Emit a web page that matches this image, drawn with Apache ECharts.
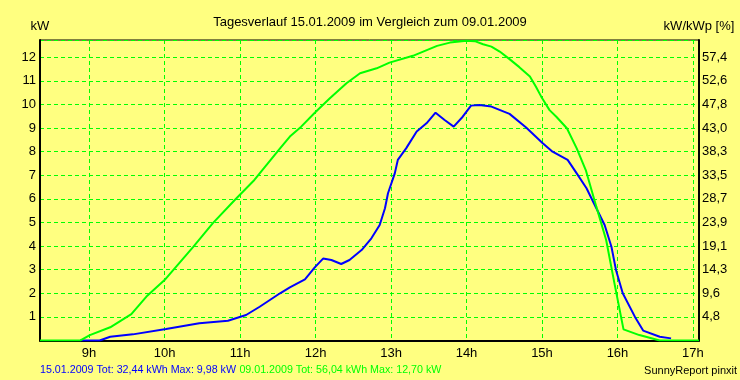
<!DOCTYPE html>
<html>
<head>
<meta charset="utf-8">
<script src="https://cdn.jsdelivr.net/npm/echarts@6/dist/echarts.min.js"></script>
<style>
html,body{margin:0;padding:0;background:#FFFF80;}
#chart{width:740px;height:380px;}
</style>
</head>
<body>
<div id="chart"></div>
<script>
// ---- data (time in decimal hours, power in kW) ----
const blueHours = [8.88, 9.14, 9.28, 9.58, 10.02, 10.46, 10.84, 11.08, 11.26, 11.53, 11.66, 11.86, 11.99, 12.10, 12.21, 12.34, 12.45, 12.61, 12.74, 12.85, 12.92, 12.96, 13.05, 13.09, 13.20, 13.34, 13.47, 13.59, 13.71, 13.83, 13.95, 14.06, 14.17, 14.33, 14.57, 14.79, 15.01, 15.14, 15.34, 15.46, 15.59, 15.72, 15.83, 15.92, 15.98, 16.07, 16.23, 16.34, 16.56, 16.71];
const blueKW    = [0, 0, 0.16, 0.26, 0.49, 0.73, 0.84, 1.08, 1.43, 2.00, 2.25, 2.59, 3.10, 3.47, 3.41, 3.24, 3.41, 3.83, 4.33, 4.89, 5.60, 6.24, 7.08, 7.65, 8.14, 8.85, 9.20, 9.65, 9.34, 9.06, 9.48, 9.95, 9.98, 9.91, 9.60, 9.02, 8.36, 8.00, 7.65, 7.08, 6.45, 5.60, 4.89, 3.97, 2.99, 2.00, 1.01, 0.42, 0.16, 0.09];

const greenHours = [8.35, 8.88, 9.01, 9.28, 9.56, 9.76, 10.00, 10.38, 10.64, 10.93, 11.19, 11.53, 11.66, 11.81, 11.99, 12.19, 12.41, 12.59, 12.81, 12.98, 13.29, 13.61, 13.78, 14.00, 14.11, 14.22, 14.33, 14.44, 14.57, 14.70, 14.84, 14.92, 14.99, 15.10, 15.19, 15.33, 15.46, 15.58, 15.72, 15.85, 15.96, 16.08, 16.29, 16.56, 17.08];
const greenKW    = [0, 0, 0.23, 0.56, 1.12, 1.86, 2.56, 3.97, 4.97, 5.95, 6.80, 8.14, 8.64, 9.06, 9.65, 10.26, 10.90, 11.32, 11.53, 11.77, 12.06, 12.48, 12.62, 12.70, 12.68, 12.55, 12.45, 12.24, 11.92, 11.58, 11.18, 10.75, 10.33, 9.76, 9.48, 8.99, 8.14, 7.22, 5.67, 4.26, 2.42, 0.47, 0.23, 0, 0];

const hourTicks = [9, 10, 11, 12, 13, 14, 15, 16, 17];
const kwTicks = [1, 2, 3, 4, 5, 6, 7, 8, 9, 10, 11, 12];
const pctLabels = ['4,8', '9,6', '14,3', '19,1', '23,9', '28,7', '33,5', '38,3', '43,0', '47,8', '52,6', '57,4'];

const titleText = 'Tagesverlauf 15.01.2009 im Vergleich zum 09.01.2009';
const blueSummary = '15.01.2009 Tot: 32,44 kWh Max: 9,98 kW';
const greenSummary = '09.01.2009 Tot: 56,04 kWh Max: 12,70 kW';
const creditText = 'SunnyReport pinxit';

// ---- chart ----
const FONT = '"Liberation Sans", Arial, sans-serif';
const GREEN = '#00FF00';
const BLUE = '#0000FF';
const zip = (xs, ys) => xs.map((x, i) => [x, ys[i]]);

const gridLine = { show: true, lineStyle: { color: GREEN, type: [4, 3], width: 1 } };

const chart = echarts.init(document.getElementById('chart'), null, { renderer: 'canvas' });
chart.setOption({
  backgroundColor: '#FFFF80',
  animation: false,
  title: {
    text: titleText, left: 'center', top: 11,
    textStyle: { fontFamily: FONT, fontSize: 13, fontWeight: 'normal', color: '#000' }
  },
  grid: {
    left: 40, right: 41, top: 40, height: 300.5,
    show: true, borderColor: '#000', borderWidth: 1, backgroundColor: 'transparent'
  },
  xAxis: {
    type: 'value', min: 8.35, max: 17.08,
    axisLine: { show: true, onZero: false, lineStyle: { color: '#000', width: 2 } },
    axisTick: { show: false, customValues: hourTicks },
    axisLabel: {
      customValues: hourTicks, margin: 6,
      formatter: v => v + 'h',
      fontFamily: FONT, fontSize: 13, color: '#000'
    },
    splitLine: gridLine
  },
  yAxis: [
    {
      type: 'value', min: 0, max: 12.73, interval: 1, position: 'left',
      name: 'kW', nameLocation: 'end', nameGap: 7,
      nameTextStyle: { fontFamily: FONT, fontSize: 13, color: '#000', align: 'center' },
      axisLine: { show: true, lineStyle: { color: '#000', width: 2 } },
      axisTick: { show: false },
      axisLabel: {
        customValues: kwTicks, margin: 4,
        fontFamily: FONT, fontSize: 13, color: '#000'
      },
      splitLine: gridLine
    },
    {
      type: 'value', min: 0, max: 12.73, interval: 1, position: 'right',
      name: 'kW/kWp [%]', nameLocation: 'end', nameGap: 7,
      nameTextStyle: { fontFamily: FONT, fontSize: 13, color: '#000', align: 'center' },
      axisLine: { show: true, lineStyle: { color: '#000', width: 2 } },
      axisTick: { show: false },
      axisLabel: {
        customValues: kwTicks, margin: 3,
        formatter: v => pctLabels[Math.round(v) - 1] || '',
        fontFamily: FONT, fontSize: 13, color: '#000'
      },
      splitLine: { show: false }
    }
  ],
  series: [
    {
      name: '15.01.2009', type: 'line', data: zip(blueHours, blueKW),
      showSymbol: false, symbol: 'none', smooth: false,
      lineStyle: { color: BLUE, width: 2 }, itemStyle: { color: BLUE }
    },
    {
      name: '09.01.2009', type: 'line', data: zip(greenHours, greenKW),
      showSymbol: false, symbol: 'none', smooth: false,
      lineStyle: { color: GREEN, width: 2 }, itemStyle: { color: GREEN }
    }
  ],
  graphic: [
    {
      type: 'text', left: 40, top: 364,
      style: {
        text: '{b|' + blueSummary + '} {g|' + greenSummary + '}',
        rich: {
          b: { fill: BLUE, fontFamily: FONT, fontSize: 10.7 },
          g: { fill: GREEN, fontFamily: FONT, fontSize: 10.7 }
        }
      }
    },
    {
      type: 'text', right: 3, top: 365,
      style: { text: creditText, fill: '#000', fontFamily: FONT, fontSize: 11 }
    }
  ]
});
</script>
</body>
</html>
